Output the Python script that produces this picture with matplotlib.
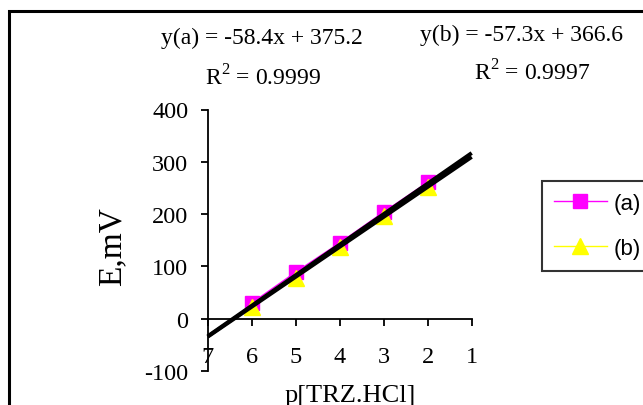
import matplotlib
matplotlib.use("Agg")
import matplotlib.pyplot as plt
import numpy as np
from matplotlib.patches import Rectangle

# ---- data ----
p_conc = [6, 5, 4, 3, 2]
series_a = [30, 89, 145, 204, 261]
series_b = [23, 78, 137, 197, 251]
series_names = ["(a)", "(b)"]
fit_slopes = [-58.4, -57.3]
fit_intercepts = [375.2, 366.6]
fit_r2 = ["0.9999", "0.9997"]
fit_x_range = [7, 1]
x_ticks = [7, 6, 5, 4, 3, 2, 1]
y_ticks = [-100, 0, 100, 200, 300, 400]

serif = "Liberation Serif"
sans = "Liberation Sans"
plt.rcParams["mathtext.fontset"] = "custom"
plt.rcParams["mathtext.rm"] = serif

W, H = 643, 406
fig = plt.figure(figsize=(W / 100, H / 100), dpi=100)

def fx(px):
    return px / W

def fy(py):
    return 1 - py / H

ax = fig.add_axes([fx(207.7), fy(372), fx(471.7) - fx(207.7), fy(110.5) - fy(372)])
ax.set_xlim(7, 1)
ax.set_ylim(-100, 400)

ax.plot(p_conc, series_a, color="#FF00FF", lw=1, marker="s", ms=10,
        mec="#FF00FF", mfc="#FF00FF", label=series_names[0], zorder=2, clip_on=False)
ax.plot(p_conc, series_b, color="#FFFF00", lw=1, marker="^", ms=12,
        mec="#FFFF00", mfc="#FFFF00", label=series_names[1], zorder=2, clip_on=False)

xs = np.array(fit_x_range, dtype=float)
for m, b in zip(fit_slopes, fit_intercepts):
    ax.plot(xs, m * xs + b, color="black", lw=2.8, zorder=3, clip_on=False,
            solid_capstyle="butt")

ax.spines["top"].set_visible(False)
ax.spines["right"].set_visible(False)
ax.spines["bottom"].set_position(("data", 0))
ax.spines["bottom"].set_linewidth(1.3)
ax.spines["left"].set_linewidth(1.3)

ax.set_xticks(x_ticks)
ax.set_xticklabels([str(t) for t in x_ticks])
ax.set_yticks(y_ticks)
ax.set_yticklabels([str(t) for t in y_ticks])
ax.tick_params(axis="x", direction="out", length=5, width=1.3, pad=15)
ax.tick_params(axis="y", direction="out", length=5, width=1.3, pad=9)
for lab in ax.get_xticklabels() + ax.get_yticklabels():
    lab.set_fontfamily(serif)
    lab.set_fontsize(17.5)

# axis titles
fig.text(fx(112), fy(247), "E,mV", rotation=90, ha="center", va="center",
         fontfamily=serif, fontsize=24)
fig.text(fx(350), fy(396), "p[TRZ.HCl]", ha="center", va="center",
         fontfamily=serif, fontsize=19)

# equations
fig.text(fx(262), fy(38), "y(a) = -58.4x + 375.2", ha="center", va="center",
         fontfamily=serif, fontsize=17)
fig.text(fx(263), fy(78), "R$^2$ = " + fit_r2[0], ha="center", va="center",
         fontfamily=serif, fontsize=17)
fig.text(fx(521), fy(35), "y(b) = -57.3x + 366.6", ha="center", va="center",
         fontfamily=serif, fontsize=17)
fig.text(fx(532), fy(73), "R$^2$ = " + fit_r2[1], ha="center", va="center",
         fontfamily=serif, fontsize=17)

# legend
leg = fig.legend(loc="upper left", bbox_to_anchor=(fx(541.5), fy(182)),
                 prop={"family": sans, "size": 16}, frameon=True, fancybox=False,
                 edgecolor="black", handlelength=2.4, handletextpad=0.3,
                 labelspacing=1.05, borderpad=0.55, borderaxespad=0)
leg.get_frame().set_linewidth(1.5)

# outer border
fig.patches.append(Rectangle((fx(8.5), fy(420)), fx(700), fy(12) - fy(420),
                             transform=fig.transFigure, fill=False,
                             edgecolor="black", linewidth=2.2))

fig.savefig("out.png", dpi=100)
